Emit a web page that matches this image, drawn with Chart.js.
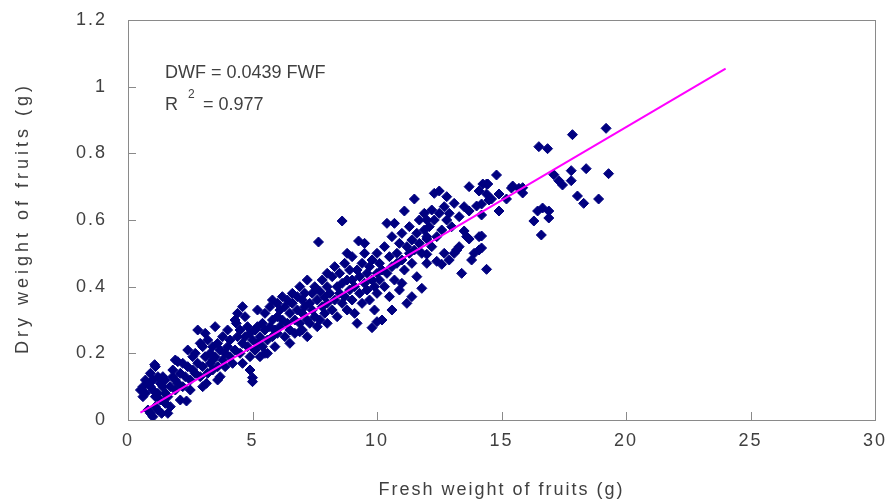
<!DOCTYPE html>
<html>
<head>
<meta charset="utf-8">
<script src="https://cdn.jsdelivr.net/npm/chart.js@4.4.0/dist/chart.umd.min.js"></script>
<style>
  html, body { margin: 0; padding: 0; background: #fff; }
  #wrap { width: 893px; height: 504px; }
</style>
</head>
<body>
<div id="wrap"><canvas id="chart"></canvas></div>
<script>
// Fresh weight (g) vs dry weight (g) of fruits
const freshWeight = [
    0.5, 0.6, 0.7, 0.8, 0.9, 1.0, 1.0, 0.9, 1.1, 1.07, 0.8, 0.9, 1.0, 1.1, 1.2, 1.3, 1.2, 1.3, 1.4, 1.4,
    1.5, 1.5, 1.6, 1.6, 1.7, 1.7, 1.8, 1.8, 1.9, 1.9, 2.0, 2.0, 1.2, 1.1, 0.7, 0.6, 1.5, 1.35, 2.1, 2.1,
    2.2, 2.3, 2.35, 2.4, 2.2, 1.9,
    2.5, 2.6, 2.6, 2.7, 2.8, 2.8, 2.9, 3.0, 3.0, 3.0, 3.1, 3.15, 3.2, 3.2, 3.3, 3.3, 3.4, 3.4, 3.5, 3.5,
    3.6, 3.6, 3.7, 3.7, 3.8, 3.8, 3.9, 3.9, 4.0, 4.0, 4.1, 4.1, 2.4, 2.5, 2.7, 2.9, 3.1, 3.4, 3.6, 4.2,
    4.3, 4.35, 4.3, 4.4, 4.5, 4.5, 4.6, 4.6, 4.7, 4.7, 4.8, 4.8, 4.9, 4.9, 5.0, 4.9, 5.0, 5.0, 5.1, 5.1,
    5.2, 5.2, 5.3, 5.3, 5.4, 5.4, 5.5, 5.5, 5.6, 5.6, 5.7, 5.7, 5.8, 5.8, 5.9, 5.9, 6.0, 6.0, 6.0, 4.4,
    4.6, 5.2, 5.5, 5.8,
    6.1, 6.1, 6.2, 6.2, 6.3, 6.3, 6.4, 6.4, 6.5, 6.5, 6.6, 6.6, 6.7, 6.7, 6.8, 6.8, 6.9, 6.9, 7.0, 7.0,
    7.0, 7.1, 7.1, 7.2, 7.2, 7.3, 7.3, 7.4, 7.4, 7.5, 7.5, 7.6, 7.65, 7.7, 7.7, 7.8, 7.8, 7.9, 7.9, 8.0,
    8.0, 8.0, 6.5, 7.2, 7.6, 8.0, 6.9,
    8.1, 8.2, 8.2, 8.3, 8.3, 8.4, 8.4, 8.5, 8.5, 8.6, 8.6, 8.6, 8.7, 8.7, 8.8, 8.8, 8.9, 8.9, 9.0, 9.0,
    9.0, 9.1, 9.1, 9.2, 9.26, 9.3, 9.3, 9.4, 9.4, 9.5, 9.5, 9.6, 9.6, 9.7, 9.7, 9.8, 9.8, 9.9, 9.9, 10.0,
    10.0, 10.0, 9.8, 10.0, 9.2, 8.8, 9.5,
    10.1, 10.1, 10.2, 10.2, 10.3, 10.3, 10.4, 10.4, 10.5, 10.5, 10.6, 10.6, 10.7, 10.7, 10.8, 10.8, 10.9, 10.9, 11.0, 11.0,
    11.1, 11.1, 11.2, 11.2, 11.3, 11.3, 11.4, 11.4, 11.5, 11.5, 11.6, 11.6, 11.7, 11.7, 11.8, 11.8, 11.9, 11.9, 12.0, 12.0,
    12.0, 10.6, 11.0, 11.4, 12.0, 12.0,
    12.1, 12.2, 12.2, 12.3, 12.4, 12.5, 12.5, 12.6, 12.7, 12.7, 12.8, 12.9, 12.9, 13.0, 13.1, 13.1, 13.2, 13.3, 13.3, 13.5,
    13.5, 13.6, 13.7, 13.7, 13.8, 13.9, 14.0, 14.1, 14.1, 14.1, 14.2, 14.4, 14.4, 14.4, 14.5, 12.4, 12.8, 13.4, 12.3, 12.6,
    13.7, 13.2,
    14.8, 15.4, 14.25, 14.45, 14.2, 14.9, 14.2, 14.2, 14.6, 15.2, 14.9, 15.7, 15.45, 15.85, 15.85,
    16.5, 16.85, 17.85, 19.2, 17.1, 17.3, 17.45, 17.8, 17.8, 18.4, 19.3, 18.05, 18.3, 18.9,
    16.45, 16.65, 16.9, 16.3, 16.9, 16.6
];
const dryWeight = [
    0.09, 0.10, 0.08, 0.11, 0.10, 0.12, 0.09, 0.14, 0.16, 0.166, 0.03, 0.02, 0.01, 0.04, 0.03, 0.06, 0.08, 0.11, 0.10, 0.13,
    0.12, 0.05, 0.07, 0.02, 0.04, 0.10, 0.13, 0.15, 0.09, 0.12, 0.175, 0.11, 0.13, 0.07, 0.12, 0.07, 0.08, 0.02, 0.14, 0.06,
    0.10, 0.13, 0.057, 0.16, 0.17, 0.18,
    0.12, 0.15, 0.19, 0.20, 0.27, 0.17, 0.13, 0.10, 0.16, 0.22, 0.19, 0.11, 0.14, 0.24, 0.20, 0.17, 0.22, 0.15, 0.28, 0.19,
    0.16, 0.23, 0.21, 0.13, 0.18, 0.25, 0.20, 0.16, 0.22, 0.27, 0.19, 0.24, 0.21, 0.09, 0.14, 0.23, 0.26, 0.18, 0.12, 0.17,
    0.30, 0.29, 0.21, 0.25, 0.20, 0.27, 0.23, 0.17, 0.25, 0.31, 0.22, 0.28, 0.19, 0.26, 0.127, 0.15, 0.115, 0.24, 0.21, 0.27,
    0.33, 0.23, 0.25, 0.19, 0.29, 0.22, 0.27, 0.32, 0.24, 0.20, 0.28, 0.34, 0.25, 0.30, 0.22, 0.27, 0.31, 0.35, 0.26, 0.32,
    0.34, 0.28, 0.20, 0.36,
    0.28, 0.33, 0.30, 0.37, 0.25, 0.34, 0.29, 0.36, 0.32, 0.27, 0.35, 0.38, 0.30, 0.26, 0.33, 0.37, 0.29, 0.40, 0.32, 0.36,
    0.27, 0.34, 0.38, 0.30, 0.42, 0.35, 0.29, 0.33, 0.38, 0.31, 0.40, 0.36, 0.534, 0.386, 0.30, 0.34, 0.42, 0.37, 0.32, 0.40,
    0.35, 0.29, 0.23, 0.25, 0.28, 0.44, 0.265,
    0.38, 0.33, 0.43, 0.36, 0.46, 0.40, 0.31, 0.38, 0.44, 0.597, 0.35, 0.41, 0.47, 0.37, 0.42, 0.33, 0.39, 0.45, 0.36, 0.42,
    0.49, 0.40, 0.32, 0.45, 0.537, 0.38, 0.43, 0.47, 0.35, 0.41, 0.50, 0.39, 0.44, 0.46, 0.36, 0.42, 0.48, 0.40, 0.33, 0.44,
    0.50, 0.38, 0.277, 0.295, 0.29, 0.50, 0.53,
    0.42, 0.47, 0.30, 0.45, 0.52, 0.40, 0.59, 0.44, 0.49, 0.37, 0.46, 0.55, 0.59, 0.42, 0.50, 0.47, 0.53, 0.39, 0.48, 0.56,
    0.627, 0.45, 0.35, 0.52, 0.50, 0.58, 0.47, 0.54, 0.663, 0.51, 0.56, 0.43, 0.60, 0.53, 0.395, 0.50, 0.57, 0.62, 0.55, 0.497,
    0.60, 0.33, 0.41, 0.37, 0.543, 0.47,
    0.58, 0.52, 0.63, 0.60, 0.55, 0.687, 0.62, 0.57, 0.64, 0.50, 0.60, 0.48, 0.62, 0.58, 0.50, 0.65, 0.51, 0.52, 0.61, 0.567,
    0.64, 0.55, 0.543, 0.627, 0.48, 0.50, 0.642, 0.55, 0.51, 0.687, 0.615, 0.708, 0.678, 0.452, 0.66, 0.476, 0.67, 0.44, 0.68, 0.467,
    0.70, 0.51,
    0.735, 0.696, 0.708, 0.708, 0.648, 0.627, 0.552, 0.516, 0.663, 0.663, 0.678, 0.695, 0.702, 0.697, 0.681,
    0.82, 0.814, 0.856, 0.875, 0.736, 0.718, 0.705, 0.748, 0.718, 0.754, 0.739, 0.672, 0.65, 0.663,
    0.627, 0.636, 0.627, 0.597, 0.606, 0.555
];

// Regression line DWF = 0.0439 FWF, end points as drawn
const lineX = [0.5, 24];
const lineY = [0.022, 1.054];

const xTicks = [0, 5, 10, 15, 20, 25, 30];
const yTicks = [0, 0.2, 0.4, 0.6, 0.8, 1, 1.2];

const xTitle = 'Fresh weight of fruits (g)';
const yTitle = 'Dry weight of fruits (g)';
const equationText = 'DWF = 0.0439 FWF';
const rSquaredText = '= 0.977';

const textColor = '#404040';
const frameColor = '#8a8a8a';
const fontFamily = '"Liberation Sans", Arial, sans-serif';

const points = freshWeight.map((x, i) => ({ x: x, y: dryWeight[i] }));
const linePoints = lineX.map((x, i) => ({ x: x, y: lineY[i] }));

// frame, inward tick marks, y title and the equation text
const framePlugin = {
    id: 'framePlugin',
    beforeDraw(chart) {
        // the original axis text is widely spaced
        chart.ctx.letterSpacing = '2px';
    },
    afterDraw(chart) {
        const { ctx, chartArea: a, scales } = chart;
        ctx.save();
        ctx.letterSpacing = '0px';
        ctx.strokeStyle = frameColor;
        ctx.lineWidth = 1;
        ctx.strokeRect(a.left + 0.5, a.top + 0.5, a.right - a.left, a.bottom - a.top);
        ctx.beginPath();
        xTicks.forEach(v => {
            const px = Math.round(scales.x.getPixelForValue(v)) + 0.5;
            ctx.moveTo(px, a.bottom);
            ctx.lineTo(px, a.bottom - 8);
        });
        yTicks.forEach(v => {
            const py = Math.round(scales.y.getPixelForValue(v)) + 0.5;
            ctx.moveTo(a.left, py);
            ctx.lineTo(a.left + 8, py);
        });
        ctx.stroke();

        ctx.fillStyle = textColor;
        ctx.font = '18px ' + fontFamily;
        ctx.textBaseline = 'alphabetic';
        ctx.textAlign = 'left';
        ctx.fillText(equationText, 165, 78);
        ctx.fillText('R', 165, 110);
        ctx.font = '12px ' + fontFamily;
        ctx.fillText('2', 188, 98);
        ctx.font = '18px ' + fontFamily;
        ctx.fillText(rSquaredText, 203, 110);

        // y axis title
        ctx.save();
        ctx.translate(23, (a.top + a.bottom) / 2);
        ctx.rotate(-Math.PI / 2);
        ctx.letterSpacing = '4px';
        ctx.textAlign = 'center';
        ctx.textBaseline = 'middle';
        ctx.font = '18px ' + fontFamily;
        ctx.fillText(yTitle, 2, 0);
        ctx.restore();
        ctx.restore();
    }
};

const ctx = document.getElementById('chart');

new Chart(ctx, {
    type: 'scatter',
    data: {
        datasets: [
            {
                label: 'fit',
                data: linePoints,
                showLine: true,
                borderColor: '#ff00ff',
                borderWidth: 2,
                pointRadius: 0,
                order: 0
            },
            {
                label: 'fruits',
                data: points,
                pointStyle: 'rectRot',
                pointRadius: 5,
                pointBackgroundColor: '#000080',
                pointBorderColor: '#000080',
                pointBorderWidth: 1,
                order: 1
            }
        ]
    },
    plugins: [framePlugin],
    options: {
        responsive: true,
        maintainAspectRatio: false,
        animation: false,
        layout: { padding: { left: 8, right: 18, top: 20, bottom: 3 } },
        plugins: {
            legend: { display: false },
            tooltip: { enabled: false }
        },
        scales: {
            x: {
                type: 'linear',
                min: 0,
                max: 30,
                afterBuildTicks: scale => { scale.ticks = xTicks.map(v => ({ value: v })); },
                afterFit: scale => { scale.height = 81; scale.paddingLeft = 0; scale.paddingRight = 0; },
                grid: { display: true, drawOnChartArea: false, drawTicks: false },
                border: { display: false },
                ticks: { color: textColor, font: { family: fontFamily, size: 18 }, padding: 10 },
                title: {
                    display: true,
                    text: xTitle,
                    color: textColor,
                    font: { family: fontFamily, size: 18 },
                    padding: { top: 12, bottom: 0 }
                }
            },
            y: {
                type: 'linear',
                min: 0,
                max: 1.2,
                afterBuildTicks: scale => { scale.ticks = yTicks.map(v => ({ value: v })); },
                afterFit: scale => { scale.width = 120; scale.paddingTop = 0; scale.paddingBottom = 0; },
                grid: { display: true, drawOnChartArea: false, drawTicks: false },
                border: { display: false },
                ticks: {
                    color: textColor,
                    font: { family: fontFamily, size: 18 },
                    padding: 21,
                    callback: v => String(Math.round(v * 10) / 10)
                },
                title: { display: false }
            }
        }
    }
});
</script>
</body>
</html>
